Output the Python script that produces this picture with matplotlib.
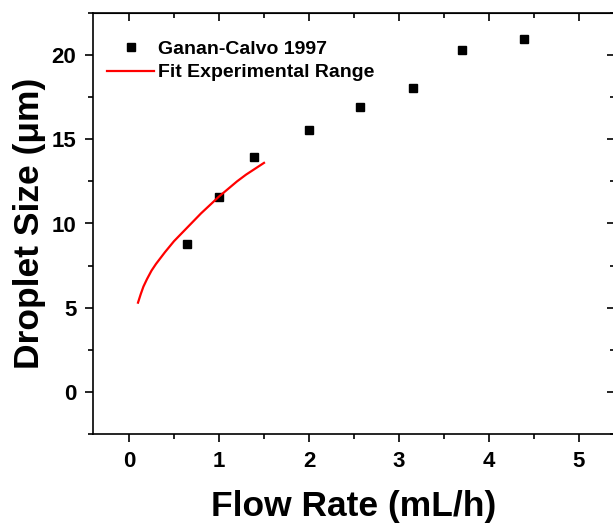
import numpy as np
import matplotlib.pyplot as plt

plt.rcParams['font.family'] = ['Liberation Sans', 'DejaVu Sans']
plt.rcParams['font.weight'] = 'bold'

# Ganan-Calvo 1997 measurements
flow_rate = [0.64, 1.00, 1.39, 2.00, 2.57, 3.16, 3.70, 4.39]
droplet_size = [8.8, 11.6, 13.95, 15.55, 16.9, 18.05, 20.3, 20.95]

# fit curve
fit_flow = [0.10, 0.13, 0.16, 0.20, 0.25, 0.30, 0.40, 0.50, 0.60, 0.70,
            0.80, 0.90, 1.00, 1.10, 1.20, 1.30, 1.40, 1.50]
fit_size = [5.3, 5.8, 6.25, 6.7, 7.2, 7.6, 8.3, 8.95, 9.5, 10.05,
            10.6, 11.1, 11.6, 12.05, 12.5, 12.9, 13.25, 13.6]

x_ticks = [0, 1, 2, 3, 4, 5]
y_ticks = [0, 5, 10, 15, 20]

fig = plt.figure(figsize=(6.13, 5.25), dpi=100)
ax = fig.add_axes([93 / 613, 1 - 434 / 525, (615 - 93) / 613, (434 - 13) / 525])

ax.plot(flow_rate, droplet_size, 's', color='black', markersize=6.3,
        label='Ganan-Calvo 1997')
ax.plot(fit_flow, fit_size, '-', color='red', linewidth=1.6,
        label='Fit Experimental Range')

ax.set_xlim(-0.4, 5.4)
ax.set_ylim(-2.5, 22.5)
ax.set_xticks(x_ticks)
ax.set_yticks(y_ticks)
ax.set_xticks(np.arange(0.0, 5.5, 0.5), minor=True)
ax.set_yticks(np.arange(-2.5, 22.6, 2.5), minor=True)

for s in ax.spines.values():
    s.set_linewidth(1.2)

ax.tick_params(axis='both', which='major', length=6, width=1.2,
               labelsize=16, pad=6)
ax.tick_params(axis='both', which='minor', length=3.5, width=1.2)
ax.tick_params(axis='x', direction='out')
ax.tick_params(axis='y', direction='out')

# inward ticks on the top and right sides
top = ax.secondary_xaxis('top')
top.set_xticks(x_ticks)
top.set_xticks(np.arange(0.0, 5.5, 0.5), minor=True)
top.tick_params(which='major', direction='in', length=6, width=1.2,
                labeltop=False)
top.tick_params(which='minor', direction='in', length=3.5, width=1.2)
right = ax.secondary_yaxis('right')
right.set_yticks(y_ticks)
right.set_yticks(np.arange(-2.5, 22.6, 2.5), minor=True)
right.tick_params(which='major', direction='in', length=6, width=1.2,
                  labelright=False)
right.tick_params(which='minor', direction='in', length=3.5, width=1.2)

ax.set_xlabel('Flow Rate (mL/h)', fontsize=25.5, fontweight='bold')
ax.set_ylabel('Droplet Size (μm)', fontsize=25.5, fontweight='bold')
ax.xaxis.set_label_coords(0.5, -0.134)
ax.yaxis.set_label_coords(-0.09, 0.5)

ax.legend(loc='upper left', bbox_to_anchor=(0.02, 0.945), frameon=False,
          fontsize=14, handlelength=2.4, handletextpad=0.2,
          labelspacing=0.32, borderaxespad=0, borderpad=0.2)

plt.savefig('out.png', dpi=100)
